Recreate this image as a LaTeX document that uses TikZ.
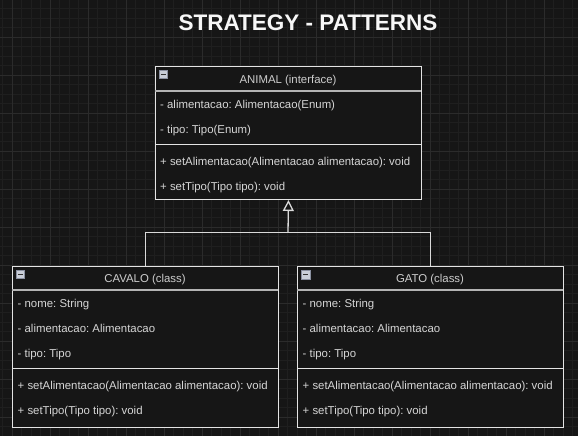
\documentclass[tikz,border=0pt]{standalone}
\usepackage{fontspec}
\setmainfont{Liberation Sans}
\usetikzlibrary{arrows.meta}
\definecolor{bgcol}{HTML}{161616}
\definecolor{gridminor}{HTML}{1F1F1F}
\definecolor{gridmajor}{HTML}{2B2B2B}
\definecolor{boxline}{HTML}{E4E4E4}
\definecolor{headline}{HTML}{B4B4B4}
\definecolor{txtcol}{HTML}{D6D6D6}
\definecolor{iconfill}{HTML}{C9CED8}
\definecolor{iconline}{HTML}{8A90A0}
\frenchspacing
\begin{document}
\begin{tikzpicture}[x=1pt, y=-1pt,
  umlbox/.style={draw=boxline, fill=bgcol, line width=1pt, minimum width=266pt, inner sep=0pt, anchor=north west},
  member/.style={text=txtcol, font=\fontsize{11.4}{13}\selectfont\frenchspacing, inner sep=0pt, text height=8pt, text depth=0pt, anchor=west},
  header/.style={member, text=txtcol!90!gray, anchor=center},
  link/.style={draw=boxline!90!gray, line width=1.3pt}]

\fill[bgcol] (0,0) rectangle (578,436);
\useasboundingbox (0,0) rectangle (578,436);

% grid
\foreach \i in {0,...,60} \draw[gridminor, line width=0.6pt] ({2.5+\i*9.5},0) -- ++(0,436);
\foreach \i in {0,...,45} \draw[gridminor, line width=0.6pt] (0,{8.5+\i*9.5}) -- ++(578,0);
\foreach \i in {0,...,15} \draw[gridmajor, line width=0.8pt] ({12+\i*38},0) -- ++(0,436);
\foreach \i in {0,...,11} \draw[gridmajor, line width=0.8pt] (0,{-1+\i*38}) -- ++(578,0);

\node[text=white!94!gray, font=\bfseries\fontsize{22.5}{26}\selectfont, inner sep=0pt] (title) at (308,23) {STRATEGY - PATTERNS};

% boxes
\node[umlbox, minimum height=133pt] (animal) at (155,66) {};
\node[umlbox, minimum height=161pt] (cavalo) at (12,266) {};
\node[umlbox, minimum height=161pt] (gato) at (297,266) {};

\draw[headline, line width=1.3pt] (155,91) -- (421,91);
\draw[boxline] (155,144) -- (421,144);
\draw[headline, line width=1.3pt] (12,290) -- (278,290) (297,290) -- (563,290);
\draw[boxline] (12,368) -- (278,368) (297,368) -- (563,368);

\foreach \x/\y in {159/70, 16/270, 301.5/270.5}{
  \filldraw[fill=iconfill, draw=iconline, line width=0.6pt] (\x,\y) rectangle ++(8.5,8.5);
  \draw[black!80, line width=1.1pt] (\x+1.8,\y+4.3) -- ++(4.9,0);
}

\node[header] (animalT) at (288,79) {ANIMAL (interface)};
\node[member] (animalA1) at (160,104) {- alimentacao: Alimentacao(Enum)};
\node[member] (animalA2) at (160,129) {- tipo: Tipo(Enum)};
\node[member] (animalM1) at (160,161) {+ setAlimentacao(Alimentacao alimentacao): void};
\node[member] (animalM2) at (160,186) {+ setTipo(Tipo tipo): void};

\node[header] (cavaloT) at (145,278) {CAVALO (class)};
\node[member] (cavaloA1) at (17.5,303) {- nome: String};
\node[member] (cavaloA2) at (17.5,328) {- alimentacao: Alimentacao};
\node[member] (cavaloA3) at (17.5,353) {- tipo: Tipo};
\node[member] (cavaloM1) at (17.5,385) {+ setAlimentacao(Alimentacao alimentacao): void};
\node[member] (cavaloM2) at (17.5,410) {+ setTipo(Tipo tipo): void};

\node[header] (gatoT) at (430,278) {GATO (class)};
\node[member] (gatoA1) at (302.5,303) {- nome: String};
\node[member] (gatoA2) at (302.5,328) {- alimentacao: Alimentacao};
\node[member] (gatoA3) at (302.5,353) {- tipo: Tipo};
\node[member] (gatoM1) at (302.5,385) {+ setAlimentacao(Alimentacao alimentacao): void};
\node[member] (gatoM2) at (302.5,410) {+ setTipo(Tipo tipo): void};

% inheritance
\coordinate (join) at (288,232.5);
\draw[link, line width=1.2pt] (cavalo.north) |- (join) -| (gato.north);
\draw[link, -{Triangle[length=11pt, width=11pt, fill=bgcol]}] (join) -- (animal.south);

\end{tikzpicture}
\end{document}
